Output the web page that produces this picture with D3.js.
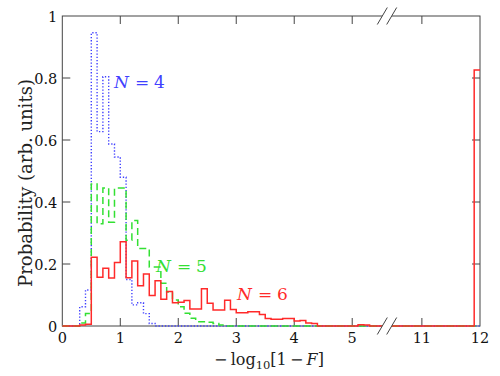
<!DOCTYPE html>
<html><head><meta charset="utf-8">
<script src="https://cdn.jsdelivr.net/npm/d3@7"></script>
<style>body{margin:0;background:#fff} svg{display:block}</style>
</head><body><svg id="c" width="500" height="376"></svg>
<script>
// bin edges of the main (left) part of the broken axis
const binEdges = [0.0,0.1,0.2,0.3,0.4,0.5,0.6,0.7,0.8,0.9,1.0,1.1,1.2,1.3,1.4,1.5,1.6,1.7,1.8,1.9,2.0,2.1,2.2,2.3,2.4,2.5,2.6,2.7,2.8,2.9,3.0,3.1,3.2,3.3,3.4,3.5,3.6,3.7,3.8,3.9,4.0,4.1,4.2,4.3,4.4,4.5,4.6,4.7,4.8,4.9,5.0,5.1,5.2,5.3,5.4,5.5,5.6];
const valuesN4 = [0,0,0,0.062,0.116,0.946,0.627,0.804,0.587,0.545,0.48,0.15,0.068,0.075,0.04,0.008,0,0,0,0,0,0,0,0,0,0,0,0,0,0,0,0,0,0,0,0,0,0,0,0,0,0,0,0,0,0,0,0,0,0,0,0,0,0,0,0];
const valuesN5 = [0,0,0,0.01,0.04,0.458,0.33,0.445,0.335,0.445,0.445,0.277,0.34,0.25,0.25,0.19,0.19,0.138,0.11,0.084,0.062,0.041,0.025,0.014,0.014,0.012,0.008,0.003,0,0,0,0,0,0,0,0,0,0,0,0,0,0,0,0,0,0,0,0,0,0,0,0,0,0,0,0];
const valuesN6 = [0,0,0,0.003,0.006,0.222,0.157,0.186,0.155,0.205,0.272,0.156,0.21,0.13,0.168,0.098,0.146,0.086,0.111,0.075,0.077,0.082,0.055,0.055,0.12,0.073,0.052,0.052,0.083,0.053,0.043,0.043,0.046,0.046,0.037,0.024,0.022,0.022,0.024,0.024,0.016,0.018,0.01,0.008,0,0,0,0,0,0,0,0.004,0.003,0,0,0];
// bin edges of the right part of the broken axis
const tailEdges = [10.4, 11.9, 12.0];
const tailN4 = [0, 0];
const tailN5 = [0, 0];
const tailN6 = [0, 0.826];
const xTicks = [0,1,2,3,4,5,11,12];
const xTickLabels = ["0","1","2","3","4","5","11","12"];
const yTicks = [0,0.2,0.4,0.6,0.8,1];
const yTickLabels = ["0","0.2","0.4","0.6","0.8","1"];
const seriesNames = ["N = 4","N = 5","N = 6"];

const svg = d3.select("#c");
const L = 62.3, R = 480, T = 16, B = 326;
const breakLo = 5.6, breakHi = 10.4;
const x = d3.scaleLinear().domain([0, breakLo, breakHi, 12]).range([L, 387, 387, R]);
const y = d3.scaleLinear().domain([0, 1]).range([B, T]);
const font = "'DejaVu Serif', serif";
const frameColor = "#444";

// frame
svg.append("rect").attr("x", L).attr("y", T).attr("width", R - L).attr("height", B - T)
  .attr("fill", "none").attr("stroke", frameColor).attr("stroke-width", 1);

const tickLen = 8;
xTicks.forEach(t => {
  if (t === 0 || t === 12) return;
  svg.append("line").attr("x1", x(t)).attr("x2", x(t)).attr("y1", B).attr("y2", B - tickLen).attr("stroke", frameColor);
  svg.append("line").attr("x1", x(t)).attr("x2", x(t)).attr("y1", T).attr("y2", T + tickLen).attr("stroke", frameColor);
});
yTicks.forEach(t => {
  if (t === 0 || t === 1) return;
  svg.append("line").attr("x1", L).attr("x2", L + tickLen).attr("y1", y(t)).attr("y2", y(t)).attr("stroke", frameColor);
  svg.append("line").attr("x1", R).attr("x2", R - tickLen).attr("y1", y(t)).attr("y2", y(t)).attr("stroke", frameColor);
});

// tick labels
svg.append("g").selectAll("text").data(xTicks).join("text")
  .attr("x", d => x(d)).attr("y", B + 17).attr("text-anchor", "middle")
  .attr("font-family", font).attr("font-size", 14.5).attr("fill", "#111")
  .text((d, i) => xTickLabels[i]);
svg.append("g").selectAll("text").data(yTicks).join("text")
  .attr("x", L - 5).attr("y", d => y(d) + 5.5).attr("text-anchor", "end")
  .attr("font-family", font).attr("font-size", 14.5).attr("fill", "#111")
  .text((d, i) => yTickLabels[i]);

// axis titles
function fitWidth(sel, target) {
  const w = sel.node().getComputedTextLength();
  const fs = parseFloat(sel.attr("font-size"));
  sel.attr("font-size", fs * target / w);
}
const yl = svg.append("text").attr("transform", "translate(32,183) rotate(-90)")
  .attr("text-anchor", "middle").attr("font-family", font).attr("font-size", 16).attr("fill", "#222")
  .text("Probability (arb. units)");
fitWidth(yl, 208);
const xl = svg.append("text").attr("x", 269).attr("y", 365).attr("text-anchor", "middle")
  .attr("font-family", font).attr("font-size", 16).attr("fill", "#222");
xl.append("tspan").text("\u2212\u2009log");
xl.append("tspan").attr("font-size", 11.5).attr("dy", 4).text("10");
xl.append("tspan").attr("dy", -4).text("[1\u2009\u2212\u2009");
xl.append("tspan").attr("font-style", "italic").text("F");
xl.append("tspan").text("]");

// histograms
function pts(vals, tail) {
  const p = binEdges.slice(0, -1).map((e, i) => [e, vals[i]]);
  p.push([binEdges[binEdges.length - 1], vals[vals.length - 1]]);
  p.push([tailEdges[0], tail[0]]);
  p.push([tailEdges[1], tail[1]]);
  p.push([tailEdges[2], tail[1]]);
  return p;
}
const line = d3.line().x(d => x(d[0])).y(d => y(d[1])).curve(d3.curveStepAfter);
svg.append("path").attr("d", line(pts(valuesN4, tailN4))).attr("fill", "none")
  .attr("stroke", "#4040ff").attr("stroke-width", 1.4).attr("stroke-dasharray", "1.3,1.9");
svg.append("path").attr("d", line(pts(valuesN5, tailN5))).attr("fill", "none")
  .attr("stroke", "#33e033").attr("stroke-width", 1.5).attr("stroke-dasharray", "7,4");
svg.append("path").attr("d", line(pts(valuesN6, tailN6))).attr("fill", "none")
  .attr("stroke", "#ff2a2a").attr("stroke-width", 1.5);

// axis break marks
const bx = x(breakLo);
[T, B].forEach(yy => {
  svg.append("polygon").attr("points",
    [[bx - 9.7, yy + 8.5], [bx + 0.3, yy - 8.5], [bx + 9.7, yy - 8.5], [bx - 0.3, yy + 8.5]].map(p => p.join(",")).join(" "))
    .attr("fill", "#fff");
  [-4.7, 4.7].forEach(o => {
    svg.append("line").attr("x1", bx + o - 5).attr("y1", yy + 8.5).attr("x2", bx + o + 5).attr("y2", yy - 8.5)
      .attr("stroke", frameColor).attr("stroke-width", 1);
  });
});

// series labels
function label(name, x0, yb, color) {
  const t = svg.append("text").attr("x", x0).attr("y", yb).attr("font-family", font)
    .attr("font-size", 17).attr("fill", color);
  const parts = name.split(" ");
  t.append("tspan").attr("font-style", "italic").text(parts[0]);
  t.append("tspan").attr("x", x0 + 21).text(parts[1]);
  t.append("tspan").attr("x", x0 + 40).text(parts[2]);
}
label(seriesNames[0], 114, 88, "#4040ff");
label(seriesNames[1], 156, 272, "#33e033");
label(seriesNames[2], 237, 300, "#ff2a2a");
</script></body></html>
